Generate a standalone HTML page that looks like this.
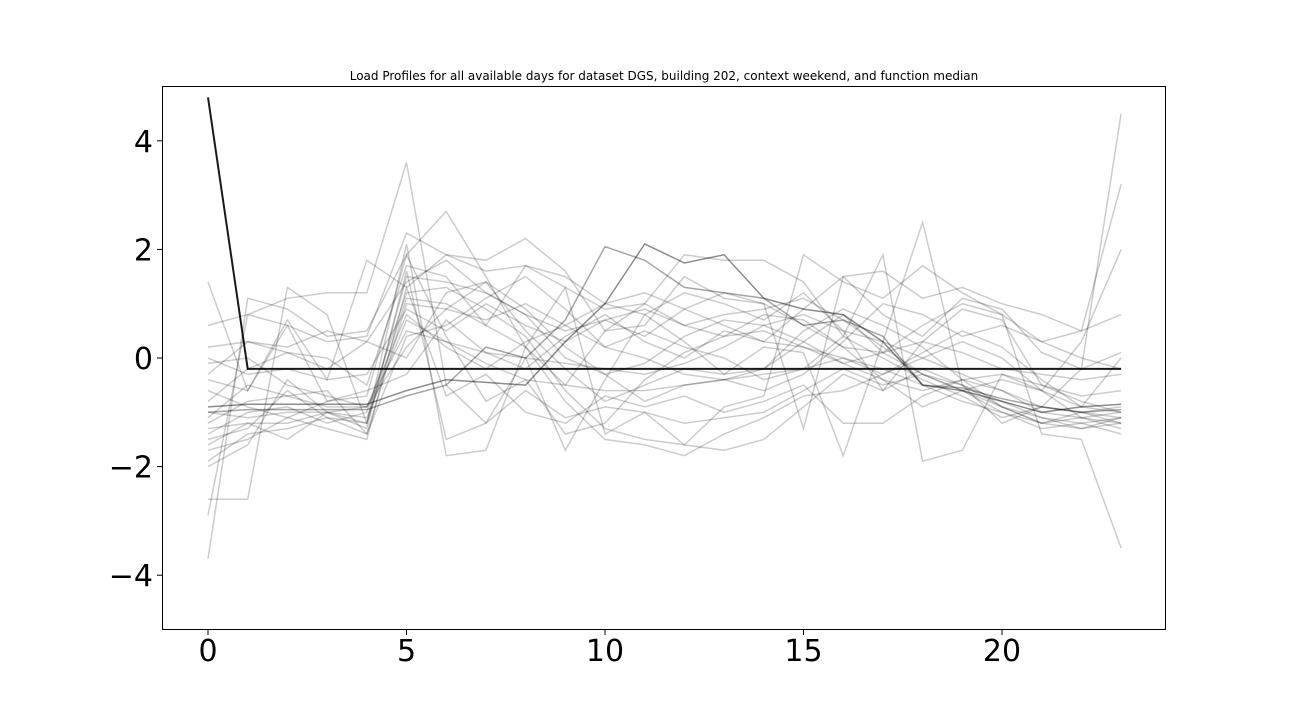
<!DOCTYPE html>
<html><head><meta charset="utf-8"><style>
html,body{margin:0;padding:0;background:#fff;}
svg{display:block;font-family:"DejaVu Sans","Liberation Sans",sans-serif;}
</style></head><body>
<svg id="chart" width="1296" height="720">
<rect x="0" y="0" width="1296" height="720" fill="#fff"/>
<text x="664" y="80" text-anchor="middle" font-size="12">Load Profiles for all available days for dataset DGS, building 202, context weekend, and function median</text>
<g id="lines"></g>
<g id="axes"></g>
<rect x="162.5" y="86.5" width="1003" height="543" fill="none" stroke="#000" stroke-width="1"/>
</svg>
<script>
const hours = [0,1,2,3,4,5,6,7,8,9,10,11,12,13,14,15,16,17,18,19,20,21,22,23];
const xTicks = [0,5,10,15,20];
const yTicks = [4,2,0,-2,-4];
const yTickLabels = ["4","2","0","\u22122","\u22124"];
const medianSeries = [4.8,-0.2,-0.2,-0.2,-0.2,-0.2,-0.2,-0.2,-0.2,-0.2,-0.2,-0.2,-0.2,-0.2,-0.2,-0.2,-0.2,-0.2,-0.2,-0.2,-0.2,-0.2,-0.2,-0.2];
const darkSeriesA = [-0.9,-0.85,-0.85,-0.85,-0.85,-0.6,-0.4,-0.45,-0.5,0.3,1.0,2.1,1.75,1.9,1.1,0.9,0.8,0.3,-0.5,-0.6,-0.8,-1.0,-0.9,-0.85];
const darkSeriesB = [-1.0,-0.95,-0.95,-0.95,-0.95,-0.7,-0.5,0.2,0.0,0.7,2.05,1.8,1.3,1.2,1.1,0.6,0.7,0.4,-0.5,-0.55,-0.75,-0.9,-1.0,-0.95];
const faintSeries = [
[1.4,-0.6,0.7,-0.4,1.8,1.3,1.9,1.6,1.7,1.5,1.0,0.8,1.2,1.0,0.7,1.2,0.5,-0.6,0.3,0.9,0.7,-0.5,-0.8,-1.0],
[0.6,0.8,1.1,1.2,1.2,3.6,-0.5,-1.2,0.0,-1.7,-0.4,0.8,0.3,-0.3,0.2,0.1,-1.8,0.3,2.5,-0.5,-1.2,-0.9,-0.2,4.5],
[-3.7,1.1,0.9,0.4,0.5,1.9,2.7,1.5,0.2,-0.5,0.5,0.6,1.5,1.1,1.0,-1.3,1.5,1.6,1.1,1.3,1.0,0.8,0.5,3.2],
[-2.9,0.8,0.6,0.3,0.4,2.3,1.9,1.8,2.2,1.6,0.5,1.0,1.9,1.8,1.8,1.4,0.4,1.9,-1.9,-1.7,-0.3,-0.6,0.3,2.0],
[-2.6,-2.6,1.3,0.8,-1.2,2.1,-1.8,-1.7,0.2,1.3,-1.4,-1.0,-1.6,-0.9,-0.7,1.9,1.4,1.1,1.7,1.2,0.8,-1.4,-1.5,-3.5],
[0.2,0.3,0.1,0.0,-0.5,1.7,1.5,0.6,1.7,1.3,0.9,1.0,0.6,0.8,0.9,1.1,0.7,0.2,-0.3,-0.5,-0.8,-1.1,-1.2,-1.1],
[-0.3,0.3,0.2,0.5,0.3,1.4,1.8,1.2,0.8,0.0,-0.3,-0.8,-0.5,-0.4,-0.6,-0.3,0.3,1.0,0.8,0.4,0.6,0.3,0.5,0.8],
[-1.1,-0.5,-0.7,-0.6,-1.4,1.0,0.9,1.4,0.5,-0.2,-0.8,-0.5,-0.2,-0.3,-0.2,0.5,0.9,0.6,0.2,-0.4,-0.9,-1.2,-1.1,-1.2],
[-1.3,-1.2,-1.5,-1.0,-1.3,1.6,-1.5,-1.2,-0.6,-1.1,-0.9,-1.0,-1.2,-1.1,-1.0,-0.6,-0.2,-0.5,-0.3,-0.6,-1.0,-1.3,-1.2,-1.4],
[-0.1,0.0,-0.5,-0.7,-0.9,0.8,0.2,-0.2,0.3,0.6,1.0,1.2,0.9,0.6,0.3,0.2,0.0,-0.3,0.1,0.5,0.2,-0.4,-0.9,0.0],
[-1.4,-1.0,-0.9,-1.2,-1.0,1.2,1.3,0.9,0.4,-0.6,-1.3,-1.5,-1.6,-1.7,-1.5,-0.9,-0.3,-0.6,-0.2,-0.5,-0.9,-1.1,-1.3,-1.2],
[-1.6,-1.2,-1.2,-1.0,-0.9,0.5,0.3,0.1,0.0,-0.1,-0.2,-0.3,-0.1,0.2,0.6,0.8,0.5,0.3,0.0,-0.3,-0.6,-0.9,-1.0,-0.9],
[-1.9,-1.4,-1.3,-1.1,-1.2,1.1,1.0,0.6,0.2,-0.8,-1.5,-1.6,-1.8,-1.4,-1.1,-0.7,-0.6,-0.3,0.0,0.3,0.0,-0.6,-1.1,-1.3],
[-0.4,-0.6,0.6,-0.8,-0.6,-0.3,0.7,0.1,-0.2,0.4,0.8,0.3,0.0,0.5,0.3,0.9,1.5,0.8,0.4,1.1,0.9,0.1,-0.2,0.1],
[-1.2,-0.8,-0.7,-0.9,-0.9,0.2,0.9,0.7,1.0,0.6,0.2,0.5,0.2,0.0,-0.4,-0.2,0.4,0.0,-0.4,-0.7,-1.1,-0.9,-1.0,-1.1],
[-1.5,-1.3,-0.6,-1.1,-1.4,0.4,0.6,1.1,1.5,0.9,0.2,0.0,-0.3,-0.4,-0.2,0.3,0.8,0.1,-0.3,-0.6,-0.9,-1.2,-1.0,-1.2],
[-0.8,-0.2,0.1,-0.2,0.3,0.0,1.2,1.4,0.9,0.2,-0.3,-0.1,0.4,0.7,0.6,0.3,-0.1,-0.4,-0.6,-0.4,-0.3,-0.5,-0.7,-0.6],
[-2.0,-1.6,-0.4,-1.0,-1.2,1.5,1.4,1.2,0.8,0.5,0.7,0.4,0.9,1.2,1.0,0.6,0.2,0.1,0.6,1.0,0.8,0.3,0.0,-0.2],
[-1.0,-1.1,-1.0,-1.0,-1.1,0.7,0.3,-0.1,-0.4,-0.5,-0.6,-0.6,-0.5,-0.4,-0.3,-0.2,0.0,-0.2,-0.5,-0.8,-1.0,-1.2,-1.3,-1.1],
[-0.6,-0.9,-1.1,-0.8,-0.7,1.9,0.4,-0.8,-0.4,-1.4,-1.2,-0.4,0.1,0.4,0.8,0.7,0.2,-0.4,-0.9,-0.6,-0.4,-0.6,-0.9,-1.0],
[0.0,-0.3,-0.2,-0.4,-0.3,0.9,0.5,1.0,0.6,0.3,0.7,0.9,0.6,0.4,0.5,0.2,-0.1,0.1,0.3,0.1,-0.2,-0.3,-0.4,-0.3],
[-1.7,-1.5,-1.1,-1.3,-1.5,1.3,-0.7,-0.3,-1.0,-1.2,-0.7,-0.9,-0.7,-1.0,-0.8,-0.5,-1.2,-1.2,-0.7,-0.4,-0.6,-1.0,-1.1,-1.0]
];
const X0=208, XS=39.7, Y0=358, YS=54.3;
function xScale(v){return X0+v*XS;}
function yScale(v){return Y0-v*YS;}
const NS="http://www.w3.org/2000/svg";
const g=document.getElementById('lines');
function drawLine(vals,color,op,w,name){
  const p=document.createElementNS(NS,'polyline');
  p.setAttribute('points',vals.map((v,i)=>xScale(hours[i]).toFixed(1)+','+yScale(v).toFixed(1)).join(' '));
  p.setAttribute('fill','none');p.setAttribute('stroke',color);
  p.setAttribute('stroke-opacity',op);p.setAttribute('stroke-width',w);
  
  
  g.appendChild(p);
}
faintSeries.forEach((s,i)=>drawLine(s,'#000',0.2,1.5,'day-profile-'+i));
drawLine(darkSeriesA,'#000',0.45,1.5,'dark-profile-a');
drawLine(darkSeriesB,'#000',0.35,1.5,'dark-profile-b');
drawLine(medianSeries,'#000',0.9,2,'median-profile');
const ax=document.getElementById('axes');
xTicks.forEach(t=>{
  const x=xScale(t);
  const l=document.createElementNS(NS,'line');
  l.setAttribute('x1',x);l.setAttribute('x2',x);l.setAttribute('y1',630);l.setAttribute('y2',635);l.setAttribute('stroke','#000');
  
  
  ax.appendChild(l);
  const tx=document.createElementNS(NS,'text');
  tx.setAttribute('x',x);tx.setAttribute('y',661);tx.setAttribute('text-anchor','middle');tx.setAttribute('font-size','30');
  tx.textContent=String(t);
  
  
  ax.appendChild(tx);
});
yTicks.forEach((t,i)=>{
  const y=yScale(t);
  const l=document.createElementNS(NS,'line');
  l.setAttribute('x1',157);l.setAttribute('x2',162);l.setAttribute('y1',y);l.setAttribute('y2',y);l.setAttribute('stroke','#000');
  
  
  ax.appendChild(l);
  const tx=document.createElementNS(NS,'text');
  tx.setAttribute('x',153);tx.setAttribute('y',y+11);tx.setAttribute('text-anchor','end');tx.setAttribute('font-size','30');
  tx.textContent=yTickLabels[i];
  
  
  ax.appendChild(tx);
});
</script>
</body></html>
